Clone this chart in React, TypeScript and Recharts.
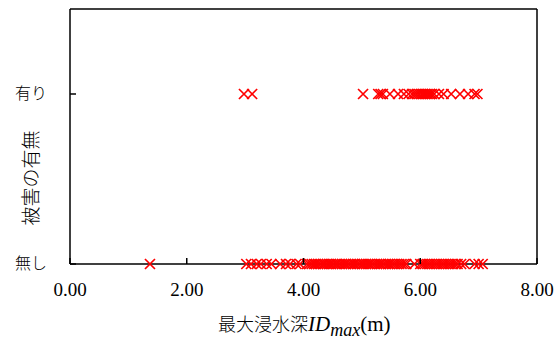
import React from 'react';
import { ScatterChart, Scatter, XAxis, YAxis, ReferenceLine } from 'recharts';

// 被害 有り (y = 1)
const damageDepths = [
  2.98, 3.12, 5.02, 5.28, 5.32, 5.36, 5.48, 5.62, 5.72, 5.80, 5.86, 5.90, 5.94, 5.98,
  6.02, 6.05, 6.08, 6.11, 6.14, 6.17, 6.20, 6.24, 6.32, 6.40, 6.53, 6.68, 6.82, 6.93, 6.98,
];

// 被害 無し (y = 0)
const noDamageDepths = [
  1.37, 3.02, 3.10, 3.20, 3.27, 3.37, 3.45, 3.60, 3.70, 3.77, 3.88, 3.94,
  4.06, 4.10, 4.14, 4.18, 4.21, 4.25, 4.29, 4.33, 4.36, 4.40, 4.44, 4.47, 4.51, 4.55,
  4.58, 4.62, 4.66, 4.70, 4.73, 4.77, 4.81, 4.85, 4.88, 4.92, 4.96, 5.00, 5.03, 5.07,
  5.11, 5.14, 5.18, 5.22, 5.26, 5.30, 5.33, 5.37, 5.41, 5.45, 5.48, 5.52, 5.56, 5.60,
  5.64, 5.68, 5.72, 5.76, 5.90, 6.00, 6.04, 6.08, 6.12, 6.16, 6.20, 6.24, 6.28, 6.32,
  6.36, 6.40, 6.44, 6.48, 6.52, 6.56, 6.60, 6.64, 6.70, 6.76, 6.93, 7.00, 7.07,
];

const xTicks = [0, 2, 4, 6, 8];
const yTicks = [0, 1];
const yTickLabels: Record<number, string> = { 0: '無し', 1: '有り' };

const damageData = damageDepths.map(x => ({ x, y: 1 }));
const noDamageData = noDamageDepths.map(x => ({ x, y: 0 }));

const SERIF = '"Liberation Serif", "Times New Roman", serif';
const CJK = '"Noto Sans CJK JP", sans-serif';

const XMark = (props: any) => {
  const { cx, cy } = props;
  const s = 5;
  return (
    <path
      d={`M${cx - s},${cy - s}L${cx + s},${cy + s}M${cx - s},${cy + s}L${cx + s},${cy - s}`}
      stroke="#ff0000"
      strokeWidth={1.7}
      fill="none"
    />
  );
};

const XTick = (props: any) => {
  const { x, y, payload } = props;
  return (
    <g>
      <line x1={x} y1={y} x2={x} y2={y - 6} stroke="#000" strokeWidth={1.5} />
      <text x={x} y={y + 32} textAnchor="middle" fontFamily={SERIF} fontSize={19} fill="#000">
        {Number(payload.value).toFixed(2)}
      </text>
    </g>
  );
};

const YTick = (props: any) => {
  const { x, y, payload } = props;
  return (
    <g>
      <line x1={x} y1={y} x2={x + 6} y2={y} stroke="#000" strokeWidth={1.5} />
      <text x={x - 23} y={y - 2} textAnchor="end" dominantBaseline="central" fontFamily={CJK} fontWeight={300} fontSize={16} fill="#000">
        {yTickLabels[payload.value]}
      </text>
    </g>
  );
};

const App: React.FC = () => {
  return (
    <div style={{ position: 'absolute', left: 0, top: 0, background: '#fff' }}>
      <ScatterChart width={556} height={340} margin={{ top: 9, right: 19, bottom: 0, left: 0 }}>
        <XAxis
          type="number"
          dataKey="x"
          domain={[0, 8]}
          ticks={xTicks}
          tickSize={0}
          tickMargin={0}
          tick={<XTick />}
          height={76}
          axisLine={{ stroke: '#000', strokeWidth: 1.5 }}
          tickLine={false}
          label={{
            content: () => (
              <text x={218} y={331} fontSize={21} fill="#000">
                <tspan fontFamily={CJK} fontWeight={300} fontSize={18}>最大浸水深</tspan>
                <tspan fontFamily={SERIF} fontStyle="italic">ID</tspan>
                <tspan fontFamily={SERIF} fontStyle="italic" fontSize={18} dy={5}>max</tspan>
                <tspan fontFamily={SERIF} dy={-5}>(m)</tspan>
              </text>
            ),
          }}
        />
        <YAxis
          type="number"
          dataKey="y"
          domain={[0, 1.5]}
          ticks={yTicks}
          tickSize={0}
          tickMargin={0}
          tick={<YTick />}
          width={70}
          axisLine={{ stroke: '#000', strokeWidth: 1.5 }}
          tickLine={false}
          label={{
            content: () => (
              <text
                x={29}
                y={178}
                transform="rotate(-90 29 178)"
                textAnchor="middle"
                dominantBaseline="central"
                fontFamily={CJK}
                fontWeight={300}
                fontSize={19}
                fill="#000"
              >
                被害の有無
              </text>
            ),
          }}
        />
        <ReferenceLine y={1.5} stroke="#000" strokeWidth={1.5} />
        <ReferenceLine x={8} stroke="#000" strokeWidth={1.5} />
        <Scatter data={noDamageData} shape={<XMark />} isAnimationActive={false} />
        <Scatter data={damageData} shape={<XMark />} isAnimationActive={false} />
      </ScatterChart>
    </div>
  );
};

export default App;
